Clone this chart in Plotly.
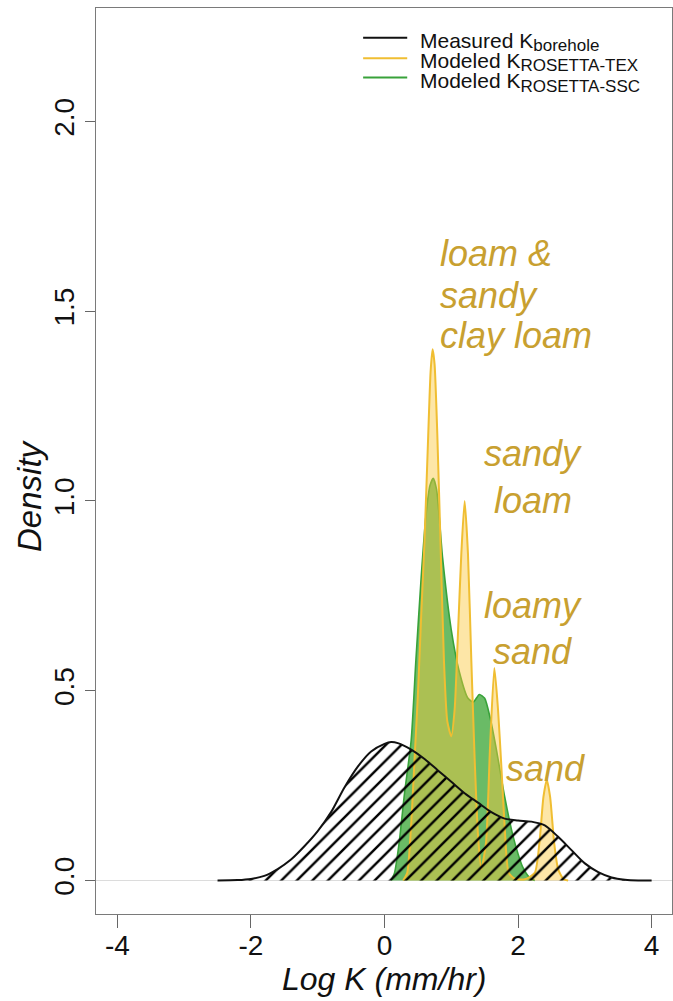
import plotly.graph_objects as go

# Density estimates of log hydraulic conductivity, Log K (mm/hr)
borehole_x = [-2.5, -2.2, -2.0, -1.8, -1.6, -1.4, -1.2, -1.0, -0.8, -0.6, -0.4, -0.2,
              0.0, 0.1, 0.2, 0.4, 0.6, 0.8, 1.0, 1.2, 1.4, 1.6, 1.8, 2.0, 2.2, 2.4,
              2.6, 2.8, 3.0, 3.2, 3.4, 3.6, 3.8, 4.0]
borehole_y = [0.0, 0.001, 0.004, 0.012, 0.03, 0.055, 0.09, 0.13, 0.18, 0.245, 0.30, 0.34,
              0.36, 0.365, 0.362, 0.345, 0.32, 0.29, 0.26, 0.23, 0.205, 0.18, 0.163, 0.158,
              0.155, 0.145, 0.115, 0.08, 0.045, 0.022, 0.008, 0.002, 0.0, 0.0]

tex_x = [0.28, 0.34, 0.40, 0.45, 0.50, 0.55, 0.60, 0.65, 0.69, 0.72, 0.75, 0.79, 0.84,
         0.89, 0.94, 1.00, 1.05, 1.10, 1.15, 1.20, 1.25, 1.30, 1.35, 1.40, 1.45, 1.52,
         1.58, 1.645, 1.70, 1.75, 1.80, 1.86, 1.95, 2.10, 2.25, 2.32, 2.38, 2.43, 2.48,
         2.54, 2.60, 2.68, 2.75]
tex_y = [0.0, 0.02, 0.15, 0.32, 0.49, 0.70, 0.90, 1.15, 1.34, 1.40, 1.36, 1.18, 0.88,
         0.58, 0.42, 0.38, 0.45, 0.65, 0.86, 1.0, 0.86, 0.58, 0.32, 0.12, 0.03, 0.10,
         0.35, 0.56, 0.45, 0.30, 0.14, 0.02, 0.005, 0.003, 0.02, 0.10, 0.22, 0.265, 0.22,
         0.10, 0.03, 0.003, 0.0]

ssc_x = [0.10, 0.15, 0.22, 0.30, 0.40, 0.47, 0.55, 0.62, 0.68, 0.73, 0.78, 0.87, 1.00,
         1.12, 1.25, 1.33, 1.42, 1.50, 1.58, 1.67, 1.80, 1.92, 2.00, 2.07, 2.17, 2.25]
ssc_y = [0.0, 0.02, 0.10, 0.23, 0.37, 0.58, 0.80, 0.96, 1.04, 1.06, 1.03, 0.85, 0.66,
         0.55, 0.48, 0.47, 0.49, 0.48, 0.43, 0.35, 0.22, 0.12, 0.07, 0.035, 0.008, 0.0]

x_ticks = [-4, -2, 0, 2, 4]
y_ticks = [0.0, 0.5, 1.0, 1.5, 2.0]
y_tick_text = ["0.0", "0.5", "1.0", "1.5", "2.0"]

legend_names = ["Measured K", "Modeled K", "Modeled K"]
legend_subs = ["borehole", "ROSETTA-TEX", "ROSETTA-SSC"]

BLACK = "#111111"
GOLD_LINE = "#F0BE32"
GOLD_FILL = "rgba(250, 200, 60, 0.45)"
GREEN_LINE = "#38A23A"
GREEN_FILL = "rgba(80, 175, 75, 0.85)"
LABEL = "#C8A030"
FONT = "Liberation Sans, Arial, sans-serif"

fig = go.Figure()

fig.add_trace(go.Scatter(
    x=ssc_x, y=ssc_y, mode="lines", fill="tozeroy",
    line=dict(color=GREEN_LINE, width=1.6, shape="spline", smoothing=0.6),
    fillcolor=GREEN_FILL, showlegend=False, hoverinfo="skip"))

fig.add_trace(go.Scatter(
    x=tex_x, y=tex_y, mode="lines", fill="tozeroy",
    line=dict(color=GOLD_LINE, width=2, shape="spline", smoothing=0.6),
    fillcolor=GOLD_FILL, showlegend=False, hoverinfo="skip"))

fig.add_trace(go.Scatter(
    x=borehole_x, y=borehole_y, mode="lines", fill="tozeroy",
    line=dict(color=BLACK, width=2, shape="spline", smoothing=0.8),
    fillcolor="rgba(0,0,0,0)",
    fillpattern=dict(shape="/", size=11, solidity=0.22, fgcolor="#000000",
                     fgopacity=1, bgcolor="rgba(0,0,0,0)", fillmode="overlay"),
    showlegend=False, hoverinfo="skip"))

# Texture-class labels beside the modeled peaks
class_labels = [
    ("loam &", 0.80, 1.652, "left"),
    ("sandy", 0.80, 1.541, "left"),
    ("clay loam", 0.80, 1.436, "left"),
    ("sandy", 2.22, 1.125, "center"),
    ("loam", 2.22, 1.001, "center"),
    ("loamy", 2.22, 0.725, "center"),
    ("sand", 2.22, 0.603, "center"),
    ("sand", 2.41, 0.295, "center"),
]
annotations = []
for txt, ax_, ay_, anchor in class_labels:
    annotations.append(dict(
        x=ax_, y=ay_, xref="x", yref="y", text=txt, showarrow=False,
        xanchor=anchor, yanchor="middle",
        font=dict(family=FONT, size=36, color=LABEL, style="italic")))

# Hand-drawn legend in the top-right corner: three line keys plus one text block
legend_colors = [BLACK, GOLD_LINE, GREEN_LINE]
legend_rows = [2.221, 2.167, 2.116]
shapes = []
for col, ry in zip(legend_colors, legend_rows):
    shapes.append(dict(type="line", xref="x", yref="y", x0=-0.32, x1=0.34,
                       y0=ry, y1=ry, line=dict(color=col, width=2)))
legend_text = "<br>".join(
    f"<span style='font-size:21px'>{name}</span>"
    f"<sub><span style='font-size:17px'>{sub}</span></sub>"
    for name, sub in zip(legend_names, legend_subs))
annotations.append(dict(
    x=0.50, y=legend_rows[1] - 0.012, xref="x", yref="y",
    text=legend_text, showarrow=False, align="left",
    xanchor="left", yanchor="middle",
    font=dict(family=FONT, size=15.5, color="#111111")))

# Axis titles
annotations.append(dict(
    x=0.5, y=-0.072, xref="paper", yref="paper", text="Log K (mm/hr)",
    showarrow=False, xanchor="center", yanchor="middle",
    font=dict(family=FONT, size=32, color="#111111", style="italic")))
annotations.append(dict(
    x=-0.1146, y=0.4625, xref="paper", yref="paper", text="Density",
    showarrow=False, xanchor="center", yanchor="middle", textangle=-90,
    font=dict(family=FONT, size=33, color="#111111", style="italic")))

fig.update_layout(
    width=673, height=1001,
    margin=dict(l=96, r=1, t=8, b=87, pad=0),
    paper_bgcolor="white", plot_bgcolor="white",
    annotations=annotations, shapes=shapes,
    showlegend=False,
    font=dict(family=FONT, color="#111111"),
)

fig.update_xaxes(
    range=[-4.32, 4.305], tickvals=x_ticks, ticktext=[str(v) for v in x_ticks],
    ticks="outside", ticklen=13, tickcolor="#666666", tickwidth=1,
    ticklabelstandoff=-7,
    tickfont=dict(family=FONT, size=28, color="#111111"),
    showgrid=False, zeroline=False,
    showline=True, linecolor="#7a7a7a", linewidth=1, mirror=True,
)
fig.update_yaxes(
    range=[-0.0884, 2.2991], tickvals=y_ticks, ticktext=y_tick_text,
    tickangle=-90,
    ticks="outside", ticklen=10, tickcolor="#666666", tickwidth=1,
    tickfont=dict(family=FONT, size=28, color="#111111"),
    showgrid=False, zeroline=True, zerolinecolor="#dcdcdc", zerolinewidth=1,
    showline=True, linecolor="#7a7a7a", linewidth=1, mirror=True,
)

fig.write_html("out.html")
